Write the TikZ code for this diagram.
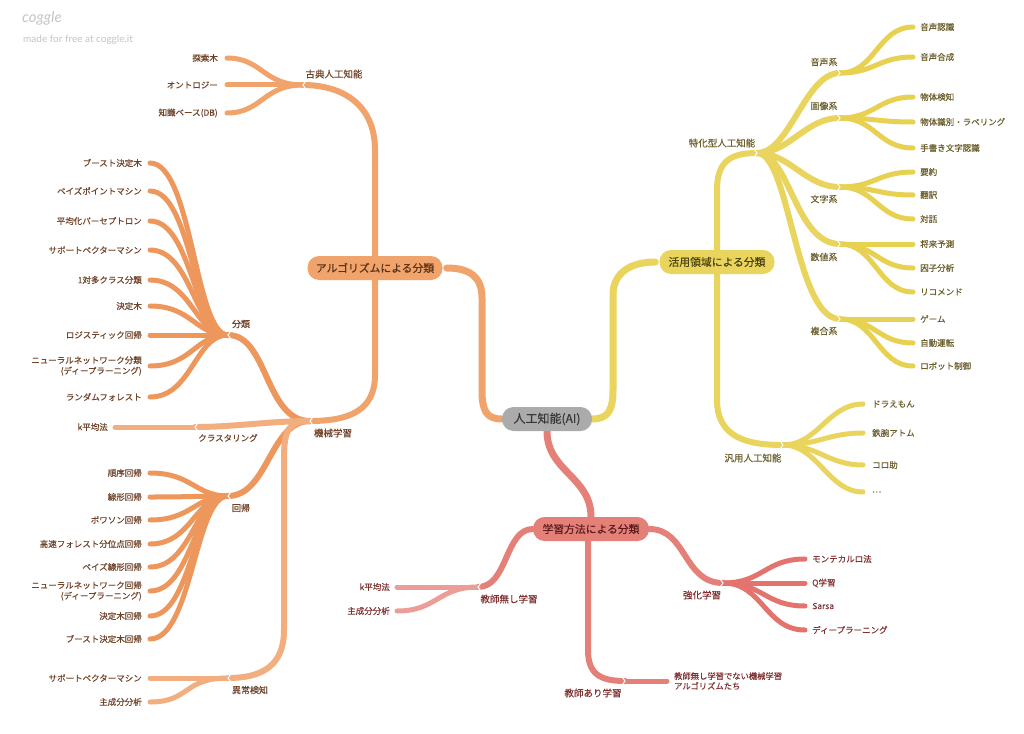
\documentclass[tikz,border=0pt]{standalone}
\usepackage{fontspec}
\setmainfont{Noto Sans CJK JP}[FakeBold=0.35]
\newfontfamily\logofont{Lato}
\newcommand\fsleaf{\fontsize{8.5pt}{10.5pt}\selectfont}
\newcommand\fssub{\fontsize{9pt}{11pt}\selectfont}
\newcommand\fsmid{\fontsize{9.5pt}{11pt}\selectfont}
\newcommand\fsbox{\fontsize{10.8pt}{12pt}\selectfont}
\newcommand\fsai{\fontsize{12pt}{14pt}\selectfont}
\definecolor{orL}{HTML}{F0A46C}
\definecolor{orD}{HTML}{ED975C}
\definecolor{orP}{HTML}{F2AE7E}
\definecolor{ye}{HTML}{E9D45E}
\definecolor{yeD}{HTML}{E8D050}
\definecolor{rd}{HTML}{E58079}
\definecolor{rdP}{HTML}{EC9D98}
\definecolor{rdD}{HTML}{E4736D}
\definecolor{grC}{HTML}{ABABAB}
\definecolor{tO}{HTML}{704329}
\definecolor{tY}{HTML}{6B5E2C}
\definecolor{tR}{HTML}{803232}
\definecolor{tOb}{HTML}{5A3218}
\definecolor{tYb}{HTML}{4E4412}
\definecolor{tRb}{HTML}{5A1C1C}
\definecolor{wm}{HTML}{C4C4C4}
\pgfdeclarelayer{bg}
\pgfdeclarelayer{paper}
\pgfsetlayers{paper,bg,main}
\begin{document}
\begin{tikzpicture}[x=1pt,y=-1pt,
  lk/.style={line cap=round,line join=round},
  w7/.style={lk,line width=7pt},
  w6/.style={lk,line width=6pt},
  w5/.style={lk,line width=5pt},
  mbox/.style={rounded corners=11.5pt, minimum height=24pt, inner sep=0pt, font=\fsbox},
  lfL/.style={anchor=east, inner sep=0pt, font=\fsleaf, align=right},
  lfR/.style={anchor=west, inner sep=0pt, font=\fsleaf, align=left},
  mid/.style={inner sep=0pt, font=\fsmid},
  sub/.style={inner sep=0pt, font=\fssub},
  notch/.style={draw=white, line width=1pt, line cap=round}
]
\useasboundingbox (0,0) rectangle (1024,733);
\begin{pgfonlayer}{paper}\fill[white] (0,0) rectangle (1024,733);\end{pgfonlayer}

% watermark
\node[anchor=west, inner sep=0pt, text=wm, font=\logofont\fontsize{15pt}{17pt}\selectfont\itshape] (logo) at (22,18) {coggle};
\node[anchor=west, inner sep=0pt, text=wm, font=\logofont\fontsize{10pt}{12pt}\selectfont] (made) at (23,40) {made for free at coggle.it};

% main boxes
\node[mbox, fill=grC, minimum width=90pt, font=\fsai, text=black!78] (ai) at (547,419) {人工知能(AI)};
\node[mbox, fill=orL, minimum width=135pt, text=tOb] (algo) at (375,268) {アルゴリズムによる分類};
\node[mbox, fill=ye, minimum width=115pt, text=tYb] (katsu) at (717,262) {活用領域による分類};
\node[mbox, fill=rd, minimum width=116pt, text=tRb] (gaku) at (591,529) {学習方法による分類};

% junction coordinates
\coordinate (koten) at (303,85);
\coordinate (kikai) at (310,421);
\coordinate (bunrui) at (228,335);
\coordinate (clus) at (195,427);
\coordinate (kaiki) at (228,496);
\coordinate (ijou) at (228,678);
\coordinate (tokka) at (757,153);
\coordinate (hanyou) at (783,445);
\coordinate (onsei) at (840,73);
\coordinate (gazou) at (840,118);
\coordinate (moji) at (840,187);
\coordinate (suuchi) at (840,244);
\coordinate (fukugou) at (840,319);
\coordinate (nashi) at (478,587);
\coordinate (kyouka) at (723,583);
\coordinate (ari) at (625,681);

% labels of junctions
\node[mid, text=tO] (kotenL) at (334,74) {古典人工知能};
\node[mid, text=tO] (kikaiL) at (333,433) {機械学習};
\node[sub, text=tO] (bunruiL) at (241,324) {分類};
\node[sub, text=tO, font=\fsleaf] (clusL) at (228,438) {クラスタリング};
\node[sub, text=tO] (kaikiL) at (241,508) {回帰};
\node[sub, text=tO] (ijouL) at (250,690) {異常検知};
\node[mid, text=tY] (tokkaL) at (722,143) {特化型人工知能};
\node[mid, text=tY] (hanyouL) at (753,458) {汎用人工知能};
\node[sub, text=tY] (onseiL) at (824,62) {音声系};
\node[sub, text=tY] (gazouL) at (824,106) {画像系};
\node[sub, text=tY] (mojiL) at (824,199) {文字系};
\node[sub, text=tY] (suuchiL) at (824,257) {数値系};
\node[sub, text=tY] (fukugouL) at (824,331) {複合系};
\node[mid, text=tR] (nashiL) at (509,599) {教師無し学習};
\node[mid, text=tR] (kyoukaL) at (702,595) {強化学習};
\node[mid, text=tR] (ariL) at (593,693) {教師あり学習};

\begin{pgfonlayer}{bg}
% root links
\draw[w7, orL] (ai.west) .. controls +(-16,0) and +(0,20) .. (482,390) -- (482,298) .. controls +(0,-22) and +(22,0) .. ([xshift=4pt]algo.east);
\draw[w7, ye] (ai.east) .. controls +(16,0) and +(0,20) .. (613,390) -- (613,295) .. controls +(0,-22) and +(-25,0) .. ([xshift=-4pt]katsu.west);
\draw[w7, rd] (ai.south) .. controls +(0,40) and +(0,-40) .. (gaku.north);
% box children
\draw[w6, orL] (algo.north) -- (375,150) .. controls +(0,-45) and +(40,0) .. (koten);
\draw[w6, orL] (algo.south) -- (375,375) .. controls +(0,35) and +(40,0) .. (kikai);
\draw[w6, ye] (katsu.north) -- (717,190) .. controls +(0,-30) and +(-25,0) .. (tokka);
\draw[w6, ye] (katsu.south) -- (717,400) .. controls +(0,38) and +(-35,0) .. (hanyou);
\draw[w6, rd] (gaku.west) .. controls +(-28,0) and +(30,0) .. (nashi);
\draw[w6, rd] (gaku.east) .. controls +(38,0) and +(-40,0) .. (kyouka);
\draw[w6, rd] ([xshift=-3pt]gaku.south) -- (588,650) .. controls +(0,24) and +(-25,0) .. (ari);
% grandchildren
\draw[w6, orD] (kikai) .. controls +(-45,0) and +(40,0) .. (bunrui);
\draw[w6, orP] (kikai) .. controls +(-40,0) and +(40,0) .. (clus);
\draw[w6, orD] (kikai) .. controls +(-40,0) and +(40,0) .. (kaiki);
\draw[w6, orP] (kikai) .. controls +(-22,0) and +(0,-30) .. (284,460) -- (284,630) .. controls +(0,35) and +(35,0) .. (ijou);
\foreach \c in {onsei,gazou,moji} \draw[w6, ye] (tokka) .. controls +(33,0) and +(-35,0) .. (\c);
\foreach \c in {suuchi,fukugou} \draw[w6, ye] (tokka) .. controls +(33,0) and +(-45,0) .. (\c);
\end{pgfonlayer}

% ---- leaves: 古典
\foreach \n/\y/\t in {1/58/探索木, 2/85/オントロジー, 3/113/知識ベース(DB)} {
  \coordinate (ke\n) at (227,\y);
  \node[lfL, text=tO] (kt\n) at (218,\y) {\t};
  \begin{pgfonlayer}{bg}\draw[w5, orL] (koten) .. controls +(-40,0) and +(35,0) .. (ke\n);\end{pgfonlayer}
}
% 分類
\foreach \n/\y/\t in {1/163/ブースト決定木, 2/191/ベイズポイントマシン, 3/221/平均化パーセプトロン, 4/250/サポートベクターマシン, 5/280/1対多クラス分類, 6/306/決定木, 7/335/ロジスティック回帰, 8/366/{ニューラルネットワーク分類\\(ディープラーニング)}, 9/397/ランダムフォレスト} {
  \coordinate (be\n) at (150,\y);
  \node[lfL, text=tO] (bt\n) at (142,\y) {\t};
  \begin{pgfonlayer}{bg}\draw[w5, orD] (bunrui) .. controls +(-33,0) and +(42,0) .. (be\n);\end{pgfonlayer}
}
% クラスタリング
\coordinate (ce1) at (115,427);
\node[lfL, text=tO] (ct1) at (108,427) {k平均法};
\begin{pgfonlayer}{bg}\draw[w5, orP] (clus) -- (ce1);\end{pgfonlayer}
% 回帰
\foreach \n/\y/\t in {1/473/順序回帰, 2/497/線形回帰, 3/520/ポワソン回帰, 4/544/高速フォレスト分位点回帰, 5/567/ベイズ線形回帰, 6/591/{ニューラルネットワーク回帰\\(ディープラーニング)}, 7/616/決定木回帰, 8/639/ブースト決定木回帰} {
  \coordinate (re\n) at (150,\y);
  \node[lfL, text=tO] (rt\n) at (142,\y) {\t};
  \begin{pgfonlayer}{bg}\draw[w5, orD] (kaiki) .. controls +(-33,0) and +(42,0) .. (re\n);\end{pgfonlayer}
}
% 異常検知
\foreach \n/\y/\t in {1/678/サポートベクターマシン, 2/702/主成分分析} {
  \coordinate (ie\n) at (150,\y);
  \node[lfL, text=tO] (it\n) at (142,\y) {\t};
  \begin{pgfonlayer}{bg}\draw[w5, orP] (ijou) .. controls +(-45,0) and +(40,0) .. (ie\n);\end{pgfonlayer}
}
% yellow leaves
\foreach \g/\n/\y/\t in {onsei/1/27/音声認識, onsei/2/57/音声合成, gazou/3/97/物体検知, gazou/4/122/物体識別・ラベリング, gazou/5/148/手書き文字認識, moji/6/172/要約, moji/7/195/翻訳, moji/8/219/対話, suuchi/9/244/将来予測, suuchi/10/268/因子分析, suuchi/11/292/リコメンド, fukugou/12/319/ゲーム, fukugou/13/343/自動運転, fukugou/14/366/ロボット制御} {
  \coordinate (ye\n) at (913,\y);
  \node[lfR, text=tY] (yt\n) at (920,\y) {\t};
  \begin{pgfonlayer}{bg}\draw[w5, yeD] (\g) .. controls +(35,0) and +(-35,0) .. (ye\n);\end{pgfonlayer}
}
\foreach \n/\y/\t in {1/404/ドラえもん, 2/433/鉄腕アトム, 3/465/コロ助, 4/492/…} {
  \coordinate (he\n) at (863,\y);
  \node[lfR, text=tY] (ht\n) at (872,\y) {\t};
  \begin{pgfonlayer}{bg}\draw[w5, ye] (hanyou) .. controls +(35,0) and +(-35,0) .. (he\n);\end{pgfonlayer}
}
% red leaves
\foreach \n/\y/\t in {1/559/モンテカルロ法, 2/583/Q学習, 3/606/Sarsa, 4/630/ディープラーニング} {
  \coordinate (qe\n) at (805,\y);
  \node[lfR, text=tR] (qt\n) at (812,\y) {\t};
  \begin{pgfonlayer}{bg}\draw[w5, rdD] (kyouka) .. controls +(40,0) and +(-40,0) .. (qe\n);\end{pgfonlayer}
}
\foreach \n/\y/\t in {1/587/k平均法, 2/611/主成分分析} {
  \coordinate (ne\n) at (397,\y);
  \node[lfL, text=tR] (nt\n) at (390,\y) {\t};
  \begin{pgfonlayer}{bg}\draw[w5, rdP] (nashi) .. controls +(-40,0) and +(40,0) .. (ne\n);\end{pgfonlayer}
}
\coordinate (ae1) at (667,681);
\node[lfR, text=tR, font=\fontsize{8.3pt}{10pt}\selectfont] (at1) at (674,681) {教師無し学習でない機械学習\\アルゴリズムたち};
\begin{pgfonlayer}{bg}\draw[w5, rd] (ari) -- (ae1);\end{pgfonlayer}

% notches
\foreach \p in {koten,kikai,bunrui,clus,kaiki,ijou,nashi}
  \draw[notch] ([shift={(2.5pt,3.5pt)}]\p) -- (\p) -- ([shift={(2.5pt,-3.5pt)}]\p);
\foreach \p in {tokka,hanyou,onsei,gazou,moji,suuchi,fukugou,kyouka,ari}
  \draw[notch] ([shift={(-2.5pt,3.5pt)}]\p) -- (\p) -- ([shift={(-2.5pt,-3.5pt)}]\p);
\end{tikzpicture}
\end{document}
